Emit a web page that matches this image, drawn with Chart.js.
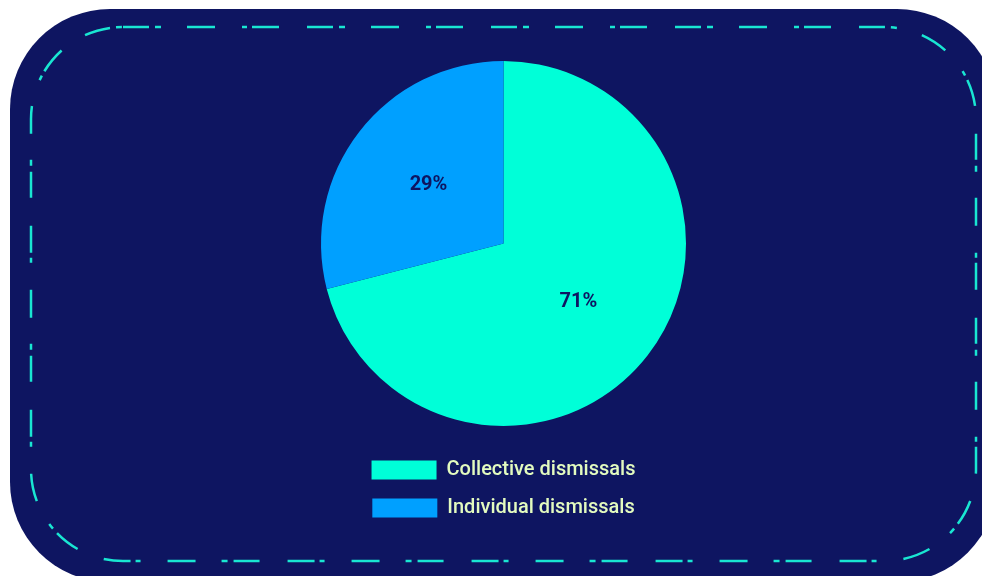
<!DOCTYPE html>
<html>
<head>
<meta charset="utf-8">
<script src="https://cdn.jsdelivr.net/npm/chart.js@4/dist/chart.umd.min.js"></script>
<style>
  html, body { margin: 0; padding: 0; background: #fff; }
  canvas { display: block; }
</style>
</head>
<body>
<canvas id="chart" width="982" height="576"></canvas>
<script>
const categories = ['Collective dismissals', 'Individual dismissals']
const shares = [71, 29]
const sliceColors = ['#00ffd8', '#00a0ff']

const navy = '#0e1561'
const dashColor = '#19e6d2'

// rounded navy panel with a dash-dot outline behind the pie
const panel = {
  id: 'panel',
  beforeDraw(chart) {
    const ctx = chart.ctx
    ctx.save()
    ctx.fillStyle = navy
    ctx.beginPath()
    ctx.roundRect(10, 9, 987, 573, 100)
    ctx.fill()

    ctx.strokeStyle = dashColor
    ctx.lineWidth = 2.5
    ctx.setLineDash([26, 6, 6, 26, 28, 27, 5, 5, 27, 28])
    ctx.beginPath()
    ctx.roundRect(31, 27, 945, 534, 92)
    ctx.stroke()
    ctx.restore()
  }
}

// percentage labels inside each slice
const sliceLabels = {
  id: 'sliceLabels',
  afterDatasetsDraw(chart) {
    const ctx = chart.ctx
    const meta = chart.getDatasetMeta(0)
    ctx.save()
    ctx.font = 'bold 20px Roboto'
    ctx.fillStyle = navy
    ctx.textAlign = 'center'
    ctx.textBaseline = 'middle'
    meta.data.forEach((arc, i) => {
      const p = arc.getProps(['x', 'y', 'startAngle', 'endAngle', 'outerRadius'], true)
      const mid = (p.startAngle + p.endAngle) / 2
      const r = p.outerRadius * 0.52
      const x = p.x + Math.cos(mid) * r
      const y = p.y + Math.sin(mid) * r
      ctx.fillText(shares[i] + '%', x, y)
    })
    ctx.restore()
  }
}

new Chart(document.getElementById('chart'), {
  type: 'pie',
  data: {
    labels: categories,
    datasets: [{
      data: shares,
      backgroundColor: sliceColors,
      borderWidth: 0,
      hoverBorderWidth: 0,
      hoverOffset: 0
    }]
  },
  options: {
    responsive: false,
    devicePixelRatio: 1,
    animation: false,
    layout: {
      padding: { left: 321, right: 296, top: 45, bottom: 48 }
    },
    plugins: {
      tooltip: { enabled: false },
      legend: {
        position: 'bottom',
        labels: {
          boxWidth: 65,
          boxHeight: 19,
          padding: 18,
          color: '#e3fbbf',
          font: { family: 'Roboto', size: 20, weight: '500' }
        }
      }
    }
  },
  plugins: [panel, sliceLabels]
})
</script>
</body>
</html>
